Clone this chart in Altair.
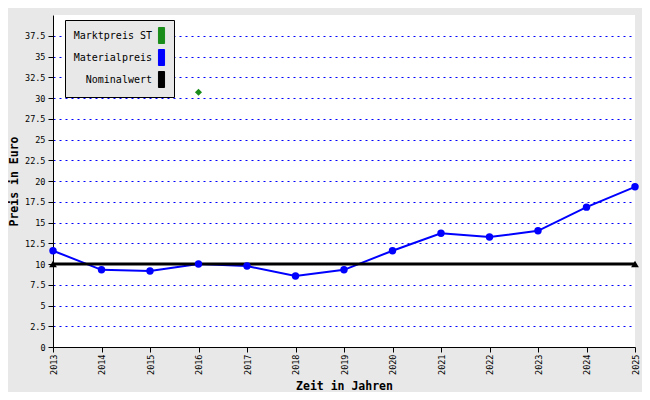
import altair as alt
import pandas as pd

years = [2013, 2014, 2015, 2016, 2017, 2018, 2019, 2020, 2021, 2022, 2023, 2024, 2025]
material = [11.6, 9.3, 9.15, 10.0, 9.75, 8.55, 9.3, 11.6, 13.7, 13.25, 14.0, 16.85, 19.3]
markt_years = [2016]
markt = [30.7]
nominal_years = [2013, 2025]
nominal = [10.0, 10.0]

series = ["Marktpreis ST", "Materialpreis", "Nominalwert"]
colors = ["#1a8c1a", "#0000ff", "#000000"]
y_ticks = [i * 2.5 for i in range(16)]

df_mat = pd.DataFrame({"Jahr": years, "Preis": material, "Reihe": "Materialpreis"})
df_markt = pd.DataFrame({"Jahr": markt_years, "Preis": markt, "Reihe": "Marktpreis ST"})
df_nom = pd.DataFrame({"Jahr": nominal_years, "Preis": nominal, "Reihe": "Nominalwert"})

FONT = "DejaVu Sans Mono"
# invisible legend title, only used to reserve room for the right-aligned labels
spacer = max(series, key=len)

x = alt.X("Jahr:Q", scale=alt.Scale(domain=[2013, 2025], nice=False, zero=False),
          axis=alt.Axis(values=years, format="d", labelAngle=270, title="Zeit in Jahren",
                        grid=False, tickSize=5, labelPadding=2, titlePadding=6))
y = alt.Y("Preis:Q", scale=alt.Scale(domain=[0, 40], nice=False),
          axis=alt.Axis(values=y_ticks, labelExpr="'' + datum.value", title="Preis in Euro",
                        grid=True, gridColor="#0000ff", gridDash=[2, 4], gridWidth=1,
                        tickSize=5, labelPadding=3, titlePadding=5))
color = alt.Color("Reihe:N", scale=alt.Scale(domain=series, range=colors),
                  legend=alt.Legend(title=spacer, titleOrient="left", titleOpacity=0,
                                    titleFont=FONT, titleFontSize=10, titleFontWeight="normal",
                                    titlePadding=2,
                                    orient="none", legendX=12, legendY=5,
                                    symbolType="M-0.38,-1H0.38V1H-0.38Z", symbolSize=256,
                                    symbolStrokeColor="#000000", symbolStrokeWidth=1,
                                    labelAlign="right", labelOffset={"expr": "-18"},
                                    labelFont=FONT, labelFontSize=10, labelColor="#000000",
                                    rowPadding=1, padding=7, fillColor="#e8e8e8",
                                    strokeColor="#000000"))

mat_line = alt.Chart(df_mat).mark_line(strokeWidth=2).encode(x=x, y=y, color=color)
mat_pts = alt.Chart(df_mat).mark_circle(size=55, opacity=1).encode(x=x, y=y, color=color)
nom_line = alt.Chart(df_nom).mark_line(strokeWidth=3).encode(x=x, y=y, color=color)
nom_pts = alt.Chart(df_nom).mark_point(shape="triangle-up", filled=True, size=60, opacity=1).encode(x=x, y=y, color=color)
markt_pts = alt.Chart(df_markt).mark_point(shape="diamond", filled=True, size=50, opacity=1).encode(x=x, y=y, color=color)

chart = alt.layer(mat_line, nom_line, mat_pts, nom_pts, markt_pts).properties(
    width=582, height=332,
    background="#e8e8e8",
    padding={"left": 45, "top": 7, "right": 7, "bottom": 45},
    autosize=alt.AutoSizeParams(type="none"),
).configure_view(fill="#ffffff", stroke=None).configure_axis(
    labelFont=FONT, labelFontSize=8.5, labelColor="#000000",
    titleFont=FONT, titleFontSize=11.5, titleFontWeight="bold", titleColor="#000000",
    domainColor="#000000", tickColor="#000000", domainWidth=1, tickWidth=1,
)

chart.save("out.html", embed_options={"renderer": "svg", "actions": False})
